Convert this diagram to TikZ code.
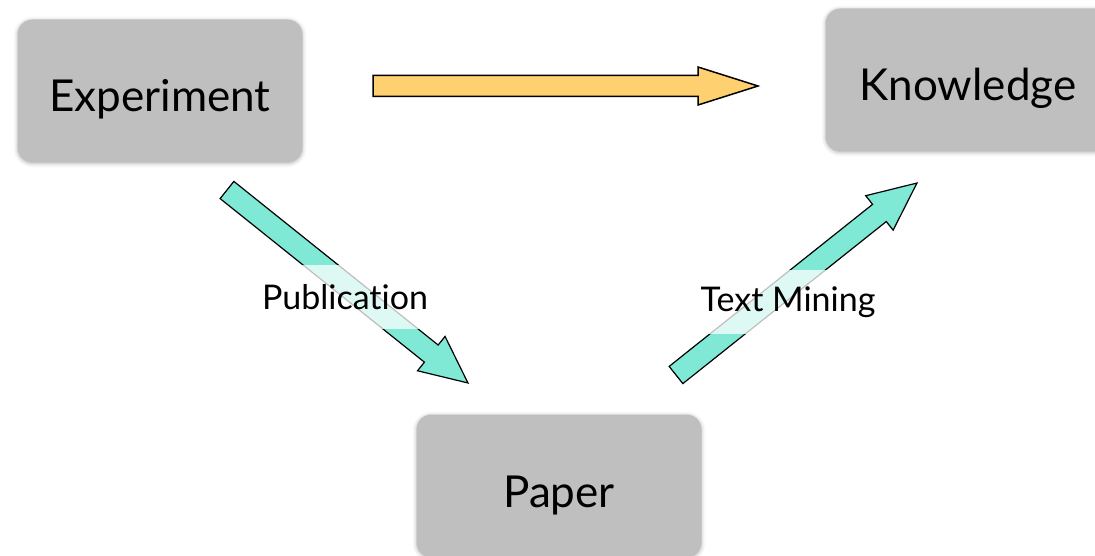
\documentclass[tikz,border=0pt]{standalone}
\usepackage{fontspec}
\setmainfont{Lato}[Ligatures=NoCommon]
\usetikzlibrary{calc,shadows.blur}

\definecolor{boxgray}{HTML}{BFBFBF}
\definecolor{arrowyellow}{HTML}{FFD070}
\definecolor{arrowteal}{HTML}{7FE9D5}

\tikzset{
  box/.style={fill=boxgray, rounded corners=15pt, minimum width=285pt, minimum height=143pt,
    text height=42pt, text depth=0pt, font=\fontsize{44}{47}\selectfont,
    blur shadow={shadow xshift=0pt, shadow yshift=-1pt, shadow blur radius=4pt, shadow opacity=30}},
  tag/.style={fill=white, fill opacity=0.75, text opacity=1, minimum height=64pt, inner xsep=2pt,
    font=\fontsize{34}{37}\selectfont},
  yellowarrow/.style={draw=black, line width=1.5pt, fill=arrowyellow},
  tealarrow/.style={draw=black, line width=1.2pt, fill=arrowteal}
}

% block arrow: style, from, to, shaft half width, head half width, head length
\newcommand\blockarrow[6]{%
  \draw[#1] let \p1=($(#3)-(#2)$), \n1={atan2(\y1,\x1)}, \n2={veclen(\x1,\y1)} in
    ([shift={(#2)},rotate=\n1]0,#4) -- ([shift={(#2)},rotate=\n1]\n2-#6,#4)
    -- ([shift={(#2)},rotate=\n1]\n2-#6,#5) -- ([shift={(#2)},rotate=\n1]\n2,0)
    -- ([shift={(#2)},rotate=\n1]\n2-#6,-#5) -- ([shift={(#2)},rotate=\n1]\n2-#6,-#4)
    -- ([shift={(#2)},rotate=\n1]0,-#4) -- cycle;
}

\begin{document}
\begin{tikzpicture}[x=1pt,y=-1pt]
  \useasboundingbox (0,0) rectangle (1095,556);
  \clip (0,0) rectangle (1095,556);

  \node[box] (exp) at (160,91) {Experiment};
  \node[box] (know) at (968,80) {Knowledge};
  \node[box] (paper) at (559,486) {Paper};

  % arrow ends
  \coordinate (directtail) at (373,86);
  \coordinate (directtip) at (758,86);
  \coordinate (pubtail) at (227,190);
  \coordinate (pubtip) at (468,383);
  \coordinate (minetail) at (676,375);
  \coordinate (minetip) at (917,183);

  \blockarrow{yellowarrow}{directtail}{directtip}{10.5}{19}{60}
  \blockarrow{tealarrow}{pubtail}{pubtip}{11}{22}{47}
  \blockarrow{tealarrow}{minetail}{minetip}{11}{22}{48}

  \node[tag] (pub) at (345,297) {Publication};
  \node[tag] (mine) at (788,302) {Text Mining};
\end{tikzpicture}
\end{document}
